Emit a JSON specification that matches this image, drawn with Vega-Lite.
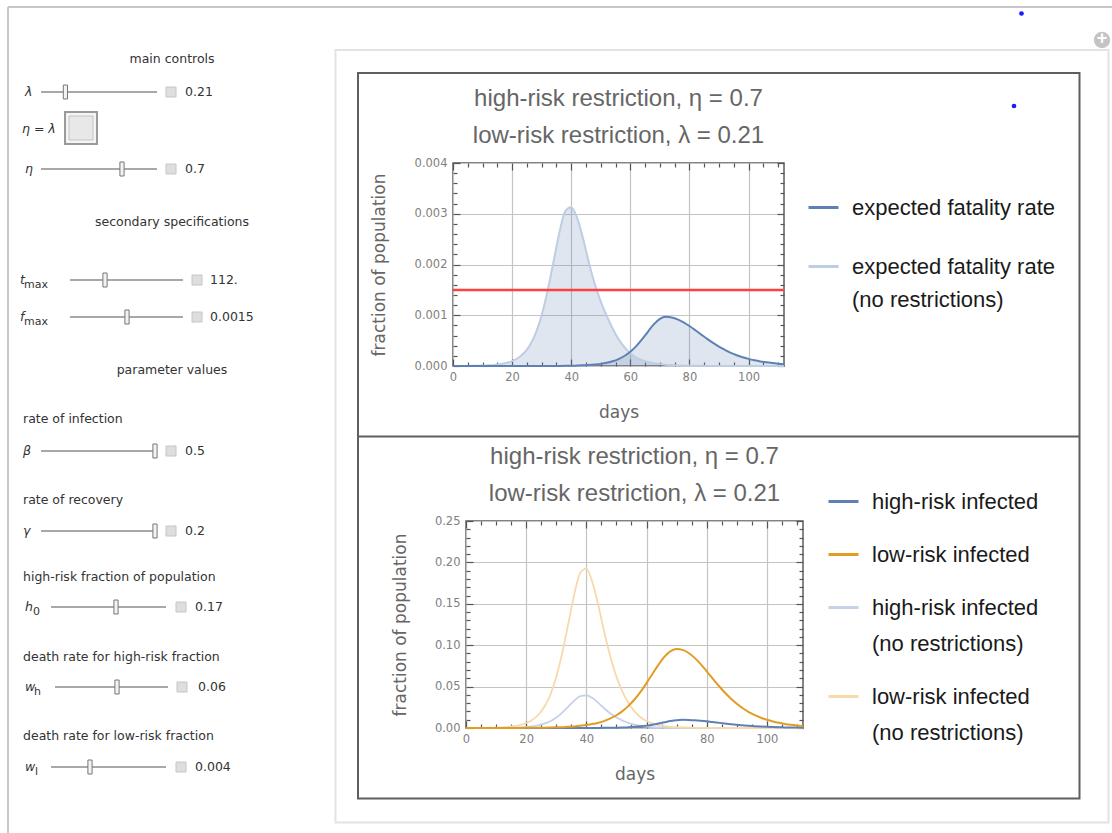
{
"$schema":"https://vega.github.io/schema/vega-lite/v6.json",
"padding":0,
"background":"#ffffff",
"bounds":"flush",
"spacing":0,
"config":{
 "view":{"stroke":null},
 "font":"Liberation Sans",
 "axis":{"labelFont":"DejaVu Sans","labelFontSize":11.5,"labelColor":"#808080","titleFont":"DejaVu Sans","titleFontSize":17,"titleFontWeight":"normal","titleColor":"#666666","tickColor":"#555555","tickWidth":1.2,"gridColor":"#c4c4c4","gridWidth":1.2,"domain":false,"labelFlush":false,"labelOverlap":false},
 "title":{"font":"Liberation Sans","fontSize":24,"fontWeight":"normal","color":"#666666","lineHeight":37,"anchor":"middle"},
 "legend":{"labelFont":"Liberation Sans","labelFontSize":22,"labelColor":"#1a1a1a","symbolType":"stroke","symbolSize":900,"symbolStrokeWidth":3,"labelLimit":600,"labelOffset":12,"labelBaseline":"alphabetic"}
},
"datasets":{
 "sliders":[
  {"sym":"λ","sub":"","sx":25,"bx":0,"y":92,"x":41,"x2":157,"xt":65.4,"xb":171,"xv":185,"val":"0.21"},
  {"sym":"η","sub":"","sx":25,"bx":0,"y":169,"x":41,"x2":157,"xt":122,"xb":171,"xv":185,"val":"0.7"},
  {"sym":"t","sub":"max","sx":20,"bx":24,"y":280,"x":70,"x2":183,"xt":105,"xb":197,"xv":210,"val":"112."},
  {"sym":"f","sub":"max","sx":20,"bx":24,"y":317,"x":70,"x2":183,"xt":127,"xb":197,"xv":210,"val":"0.0015"},
  {"sym":"β","sub":"","sx":23,"bx":0,"y":451,"x":41,"x2":155,"xt":155,"xb":171,"xv":185,"val":"0.5"},
  {"sym":"γ","sub":"","sx":23,"bx":0,"y":531,"x":41,"x2":155,"xt":155,"xb":171,"xv":185,"val":"0.2"},
  {"sym":"h","sub":"0","sx":25,"bx":33,"y":607,"x":51,"x2":166,"xt":116,"xb":181,"xv":195,"val":"0.17"},
  {"sym":"w","sub":"h","sx":25,"bx":34,"y":687,"x":55,"x2":168,"xt":117,"xb":182,"xv":198,"val":"0.06"},
  {"sym":"w","sub":"l","sx":25,"bx":35,"y":767,"x":51,"x2":166,"xt":90,"xb":181,"xv":195,"val":"0.004"}
 ],
 "curves":[
  {"day":0,"fr":0,"fr0":7e-7,"ih":0,"il":8e-6,"ih0":9e-6,"il0":4.3e-5},
  {"day":2,"fr":0,"fr0":1.1e-6,"ih":0,"il":1.1e-5,"ih0":1.4e-5,"il0":6.8e-5},
  {"day":4,"fr":0,"fr0":1.8e-6,"ih":0,"il":1.5e-5,"ih0":2.3e-5,"il0":1.1e-4},
  {"day":6,"fr":0,"fr0":3e-6,"ih":0,"il":2e-5,"ih0":3.8e-5,"il0":1.8e-4},
  {"day":8,"fr":0,"fr0":4.9e-6,"ih":0,"il":2.7e-5,"ih0":6.2e-5,"il0":3e-4},
  {"day":10,"fr":0,"fr0":8.1e-6,"ih":0,"il":3.6e-5,"ih0":1e-4,"il0":5e-4},
  {"day":12,"fr":0,"fr0":1.33e-5,"ih":0,"il":4.9e-5,"ih0":1.7e-4,"il0":8.2e-4},
  {"day":14,"fr":0,"fr0":2.2e-5,"ih":0,"il":6.7e-5,"ih0":2.8e-4,"il0":1.35e-3},
  {"day":16,"fr":0,"fr0":3.6e-5,"ih":0,"il":9.1e-5,"ih0":4.5e-4,"il0":2.2e-3},
  {"day":18,"fr":0,"fr0":5.9e-5,"ih":0,"il":1.24e-4,"ih0":7.4e-4,"il0":3.6e-3},
  {"day":20,"fr":1e-7,"fr0":9.7e-5,"ih":1e-6,"il":1.7e-4,"ih0":1.22e-3,"il0":6e-3},
  {"day":22,"fr":2e-7,"fr0":1.58e-4,"ih":2e-6,"il":2.3e-4,"ih0":2e-3,"il0":9.7e-3},
  {"day":24,"fr":3e-7,"fr0":2.56e-4,"ih":3e-6,"il":3.1e-4,"ih0":3.2e-3,"il0":1.57e-2},
  {"day":26,"fr":4e-7,"fr0":4.11e-4,"ih":4e-6,"il":4.2e-4,"ih0":5.2e-3,"il0":2.53e-2},
  {"day":28,"fr":5e-7,"fr0":6.49e-4,"ih":5e-6,"il":5.7e-4,"ih0":8.2e-3,"il0":3.99e-2},
  {"day":30,"fr":7e-7,"fr0":1.0e-3,"ih":7e-6,"il":7.7e-4,"ih0":1.26e-2,"il0":6.15e-2},
  {"day":32,"fr":1.1e-6,"fr0":1.48e-3,"ih":1.1e-5,"il":1.04e-3,"ih0":1.86e-2,"il0":9.1e-2},
  {"day":34,"fr":1.6e-6,"fr0":2.05e-3,"ih":1.6e-5,"il":1.42e-3,"ih0":2.58e-2,"il0":0.126},
  {"day":36,"fr":2.4e-6,"fr0":2.63e-3,"ih":2.4e-5,"il":1.93e-3,"ih0":3.31e-2,"il0":0.1617},
  {"day":38,"fr":3.6e-6,"fr0":3.05e-3,"ih":3.7e-5,"il":2.63e-3,"ih0":3.84e-2,"il0":0.1875},
  {"day":40,"fr":5.5e-6,"fr0":3.13e-3,"ih":5.6e-5,"il":3.52e-3,"ih0":3.94e-2,"il0":0.1925},
  {"day":42,"fr":8.2e-6,"fr0":2.92e-3,"ih":8.4e-5,"il":4.76e-3,"ih0":3.61e-2,"il0":0.176},
  {"day":44,"fr":1.24e-5,"fr0":2.51e-3,"ih":1.26e-4,"il":6.43e-3,"ih0":3.03e-2,"il0":0.148},
  {"day":46,"fr":1.86e-5,"fr0":2.03e-3,"ih":1.9e-4,"il":8.64e-3,"ih0":2.36e-2,"il0":0.115},
  {"day":48,"fr":2.79e-5,"fr0":1.61e-3,"ih":2.85e-4,"il":1.16e-2,"ih0":1.76e-2,"il0":8.6e-2},
  {"day":50,"fr":4.2e-5,"fr0":1.27e-3,"ih":4.3e-4,"il":1.54e-2,"ih0":1.27e-2,"il0":6.2e-2},
  {"day":52,"fr":6.22e-5,"fr0":9.9e-4,"ih":6.34e-4,"il":2.04e-2,"ih0":9e-3,"il0":4.4e-2},
  {"day":54,"fr":9.22e-5,"fr0":7.4e-4,"ih":9.4e-4,"il":2.67e-2,"ih0":6.2e-3,"il0":3e-2},
  {"day":56,"fr":1.36e-4,"fr0":5.3e-4,"ih":1.39e-3,"il":3.44e-2,"ih0":4.1e-3,"il0":2e-2},
  {"day":58,"fr":1.97e-4,"fr0":3.7e-4,"ih":2.01e-3,"il":4.36e-2,"ih0":2.7e-3,"il0":1.3e-2},
  {"day":60,"fr":2.8e-4,"fr0":2.5e-4,"ih":2.86e-3,"il":5.42e-2,"ih0":1.7e-3,"il0":8.5e-3},
  {"day":62,"fr":3.91e-4,"fr0":1.67e-4,"ih":3.99e-3,"il":6.55e-2,"ih0":1.1e-3,"il0":5.5e-3},
  {"day":64,"fr":5.28e-4,"fr0":1.15e-4,"ih":5.39e-3,"il":7.65e-2,"ih0":7e-4,"il0":3.5e-3},
  {"day":66,"fr":6.79e-4,"fr0":7.9e-5,"ih":6.93e-3,"il":8.61e-2,"ih0":4.5e-4,"il0":2.2e-3},
  {"day":68,"fr":8.24e-4,"fr0":5.4e-5,"ih":8.4e-3,"il":9.28e-2,"ih0":2.9e-4,"il0":1.4e-3},
  {"day":70,"fr":9.3e-4,"fr0":3.7e-5,"ih":9.49e-3,"il":9.55e-2,"ih0":1.8e-4,"il0":9e-4},
  {"day":72,"fr":9.7e-4,"fr0":2.6e-5,"ih":9.9e-3,"il":9.44e-2,"ih0":1.2e-4,"il0":6e-4},
  {"day":74,"fr":9.57e-4,"fr0":1.8e-5,"ih":9.76e-3,"il":9.06e-2,"ih0":8e-5,"il0":4e-4},
  {"day":76,"fr":9.2e-4,"fr0":1.2e-5,"ih":9.38e-3,"il":8.47e-2,"ih0":5e-5,"il0":2.5e-4},
  {"day":78,"fr":8.61e-4,"fr0":8e-6,"ih":8.78e-3,"il":7.71e-2,"ih0":3e-5,"il0":1.6e-4},
  {"day":80,"fr":7.88e-4,"fr0":5.7e-6,"ih":8.04e-3,"il":6.85e-2,"ih0":2e-5,"il0":1e-4},
  {"day":82,"fr":7.05e-4,"fr0":4e-6,"ih":7.19e-3,"il":5.97e-2,"ih0":1.3e-5,"il0":6.5e-5},
  {"day":84,"fr":6.19e-4,"fr0":2.7e-6,"ih":6.31e-3,"il":5.1e-2,"ih0":8e-6,"il0":4e-5},
  {"day":86,"fr":5.34e-4,"fr0":1.9e-6,"ih":5.45e-3,"il":4.29e-2,"ih0":5e-6,"il0":2.6e-5},
  {"day":88,"fr":4.55e-4,"fr0":1.3e-6,"ih":4.64e-3,"il":3.57e-2,"ih0":3e-6,"il0":1.7e-5},
  {"day":90,"fr":3.82e-4,"fr0":9e-7,"ih":3.9e-3,"il":2.93e-2,"ih0":2e-6,"il0":1.1e-5},
  {"day":92,"fr":3.19e-4,"fr0":6e-7,"ih":3.25e-3,"il":2.39e-2,"ih0":1e-6,"il0":7e-6},
  {"day":94,"fr":2.6e-4,"fr0":4e-7,"ih":2.65e-3,"il":1.93e-2,"ih0":1e-6,"il0":4e-6},
  {"day":96,"fr":2.13e-4,"fr0":3e-7,"ih":2.17e-3,"il":1.55e-2,"ih0":0,"il0":3e-6},
  {"day":98,"fr":1.73e-4,"fr0":2e-7,"ih":1.76e-3,"il":1.24e-2,"ih0":0,"il0":2e-6},
  {"day":100,"fr":1.4e-4,"fr0":1e-7,"ih":1.43e-3,"il":9.89e-3,"ih0":0,"il0":1e-6},
  {"day":102,"fr":1.13e-4,"fr0":1e-7,"ih":1.15e-3,"il":7.86e-3,"ih0":0,"il0":1e-6},
  {"day":104,"fr":9.03e-5,"fr0":0,"ih":9.2e-4,"il":6.23e-3,"ih0":0,"il0":0},
  {"day":106,"fr":7.23e-5,"fr0":0,"ih":7.4e-4,"il":4.93e-3,"ih0":0,"il0":0},
  {"day":108,"fr":5.78e-5,"fr0":0,"ih":5.9e-4,"il":3.89e-3,"ih0":0,"il0":0},
  {"day":110,"fr":4.61e-5,"fr0":0,"ih":4.7e-4,"il":3.06e-3,"ih0":0,"il0":0},
  {"day":112,"fr":3.68e-5,"fr0":0,"ih":3.8e-4,"il":2.42e-3,"ih0":0,"il0":0}
 ]
},
"hconcat":[
 {
  "width":330,"height":833,
  "encoding":{
   "x":{"field":"x","type":"quantitative","scale":{"domain":[0,330],"nice":false,"zero":false},"axis":null},
   "y":{"field":"y","type":"quantitative","scale":{"domain":[0,833],"nice":false,"zero":false,"reverse":true},"axis":null}
  },
  "layer":[
   {"data":{"values":[{"x":0,"x2":1112,"y":0,"y2":833}]},"mark":{"type":"rect","fill":"#ffffff"},"encoding":{"x2":{"field":"x2"},"y2":{"field":"y2"}}},
   {"data":{"values":[{"x":8,"x2":1112,"y":7,"y2":7},{"x":8,"x2":8,"y":7,"y2":833}]},"mark":{"type":"rule","stroke":"#c8c8c8","strokeWidth":2},"encoding":{"x2":{"field":"x2"},"y2":{"field":"y2"}}},
   {"data":{"values":[{"x":335.5,"x2":1108.5,"y":50,"y2":822.5}]},"mark":{"type":"rect","fill":"transparent","stroke":"#e3e3e3","strokeWidth":2},"encoding":{"x2":{"field":"x2"},"y2":{"field":"y2"}}},
   {"data":{"values":[{"x":358,"x2":1079.5,"y":73,"y2":798.5}]},"mark":{"type":"rect","fill":"transparent","stroke":"#5f5f5f","strokeWidth":2},"encoding":{"x2":{"field":"x2"},"y2":{"field":"y2"}}},
   {"data":{"values":[{"x":358,"x2":1079.5,"y":436.5,"y2":436.5}]},"mark":{"type":"rule","stroke":"#5f5f5f","strokeWidth":2},"encoding":{"x2":{"field":"x2"},"y2":{"field":"y2"}}},
   {"data":{"values":[{"x":1102,"y":40}]},"mark":{"type":"circle","size":270,"fill":"#c4c4c4","opacity":1}},
   {"data":{"values":[{"x":1102,"y":40}]},"mark":{"type":"text","text":"+","fontSize":18,"fontWeight":"bold","fill":"#ffffff","align":"center","baseline":"middle","dy":-1}},
   {"data":{"values":[{"x":1021.5,"y":13.5},{"x":1014,"y":106}]},"mark":{"type":"circle","size":22,"fill":"#1a1aff","opacity":1}},
   {"data":{"values":[{"t":"main controls","x":172,"y":59},{"t":"secondary specifications","x":172,"y":222},{"t":"parameter values","x":172,"y":370}]},
    "mark":{"type":"text","font":"DejaVu Sans","fontSize":12.5,"fill":"#333333","align":"center","baseline":"middle"},"encoding":{"text":{"field":"t"}}},
   {"data":{"values":[{"t":"rate of infection","x":23,"y":419},{"t":"rate of recovery","x":23,"y":500},{"t":"high-risk fraction of population","x":23,"y":577},{"t":"death rate for high-risk fraction","x":23,"y":657},{"t":"death rate for low-risk fraction","x":23,"y":736}]},
    "mark":{"type":"text","font":"DejaVu Sans","fontSize":12.5,"fill":"#333333","align":"left","baseline":"middle"},"encoding":{"text":{"field":"t"}}},
   {"data":{"values":[{"t":"η = λ","x":22,"y":129}]},
    "mark":{"type":"text","font":"DejaVu Sans","fontSize":12.5,"fontStyle":"italic","fill":"#333333","align":"left","baseline":"middle"},"encoding":{"text":{"field":"t"}}},
   {"data":{"values":[{"x":65,"x2":97,"y":112,"y2":144}]},"mark":{"type":"rect","fill":"#f4f4f4","stroke":"#9a9a9a","strokeWidth":2},"encoding":{"x2":{"field":"x2"},"y2":{"field":"y2"}}},
   {"data":{"values":[{"x":69,"x2":93,"y":116,"y2":140}]},"mark":{"type":"rect","fill":"#e8e8e8","stroke":"#c4c4c4","strokeWidth":1},"encoding":{"x2":{"field":"x2"},"y2":{"field":"y2"}}},
   {"data":{"name":"sliders"},"mark":{"type":"rule","stroke":"#a8a8a8","strokeWidth":2},"encoding":{"x2":{"field":"x2"}}},
   {"data":{"name":"sliders"},"mark":{"type":"point","shape":"M-0.3,-1H0.3V1H-0.3Z","size":196,"filled":true,"fill":"#f2f2f2","stroke":"#777777","strokeWidth":1,"opacity":1},
    "encoding":{"x":{"field":"xt","type":"quantitative","scale":{"domain":[0,330],"nice":false,"zero":false},"axis":null}}},
   {"data":{"name":"sliders"},"mark":{"type":"point","shape":"square","size":100,"filled":true,"fill":"#dedede","stroke":"#c6c6c6","strokeWidth":1,"opacity":1},
    "encoding":{"x":{"field":"xb","type":"quantitative","scale":{"domain":[0,330],"nice":false,"zero":false},"axis":null}}},
   {"data":{"name":"sliders"},"mark":{"type":"text","font":"DejaVu Sans","fontSize":12.5,"fill":"#333333","align":"left","baseline":"middle"},
    "encoding":{"x":{"field":"xv","type":"quantitative","scale":{"domain":[0,330],"nice":false,"zero":false},"axis":null},"text":{"field":"val"}}},
   {"data":{"name":"sliders"},"mark":{"type":"text","font":"DejaVu Sans","fontSize":12.5,"fontStyle":"italic","fill":"#333333","align":"left","baseline":"middle"},
    "encoding":{"x":{"field":"sx","type":"quantitative","scale":{"domain":[0,330],"nice":false,"zero":false},"axis":null},"text":{"field":"sym"}}},
   {"data":{"name":"sliders"},"mark":{"type":"text","font":"DejaVu Sans","fontSize":11,"fill":"#333333","align":"left","baseline":"middle","dy":5},
    "encoding":{"x":{"field":"bx","type":"quantitative","scale":{"domain":[0,330],"nice":false,"zero":false},"axis":null},"text":{"field":"sub"}}}
  ]
 },
 {
  "bounds":"flush",
  "spacing":0,
  "resolve":{"scale":{"color":"independent"},"legend":{"color":"independent"}},
  "vconcat":[
   {"width":1,"height":163,"data":{"values":[]},"mark":"point"},
   {"bounds":"flush","spacing":0,"hconcat":[
    {"width":123,"height":1,"data":{"values":[]},"mark":"point"},
    {
     "width":331,"height":203,
     "view":{"stroke":"#5c5c5c","strokeWidth":1.5},
     "title":{"text":["high-risk restriction, η = 0.7","low-risk restriction, λ = 0.21"],"offset":9},
     "data":{"name":"curves"},
     "layer":[
      {
       "transform":[{"fold":["fr0","fr"],"as":["series","value"]}],
       "mark":{"type":"area","fill":"#5E81B5","fillOpacity":0.2,"interpolate":"monotone"},
       "encoding":{
        "x":{"field":"day","type":"quantitative","scale":{"domain":[0,112],"nice":false,"zero":false},
         "axis":{"orient":"bottom","values":[0,5,10,15,20,25,30,35,40,45,50,55,60,65,70,75,80,85,90,95,100,105,110],"format":"d",
          "labelExpr":"datum.value % 20 == 0 ? datum.label : ''",
          "tickSize":{"condition":{"test":"datum.value % 20 == 0","value":-7},"value":-4},
          "labelPadding":12,"grid":true,
          "gridOpacity":{"condition":{"test":"datum.value % 20 == 0","value":1},"value":0},
          "title":"days","titlePadding":19}},
        "y":{"field":"value","type":"quantitative","stack":null,"scale":{"domain":[0,0.004],"nice":false,"zero":false},
         "axis":{"orient":"left","values":[0,0.0002,0.0004,0.0006,0.0008,0.001,0.0012,0.0014,0.0016,0.0018,0.002,0.0022,0.0024,0.0026,0.0028,0.003,0.0032,0.0034,0.0036,0.0038,0.004],"format":".3f",
          "labelExpr":"round(datum.value*10000) % 10 == 0 ? datum.label : ''",
          "tickSize":{"condition":{"test":"round(datum.value*10000) % 10 == 0","value":-7},"value":-4},
          "labelPadding":13,"grid":true,
          "gridOpacity":{"condition":{"test":"round(datum.value*10000) % 10 == 0","value":1},"value":0},
          "title":"fraction of population","titlePadding":26}},
        "detail":{"field":"series"}
       }
      },
      {
       "transform":[{"fold":["fr0","fr"],"as":["series","value"]}],
       "mark":{"type":"line","strokeWidth":2,"interpolate":"monotone"},
       "encoding":{
        "x":{"field":"day","type":"quantitative",
         "axis":{"orient":"top","values":[0,5,10,15,20,25,30,35,40,45,50,55,60,65,70,75,80,85,90,95,100,105,110],"labels":false,"grid":false,"title":null,
          "tickSize":{"condition":{"test":"datum.value % 20 == 0","value":-7},"value":-4}}},
        "y":{"field":"value","type":"quantitative",
         "axis":{"orient":"right","values":[0,0.0002,0.0004,0.0006,0.0008,0.001,0.0012,0.0014,0.0016,0.0018,0.002,0.0022,0.0024,0.0026,0.0028,0.003,0.0032,0.0034,0.0036,0.0038,0.004],"labels":false,"grid":false,"title":null,
          "tickSize":{"condition":{"test":"round(datum.value*10000) % 10 == 0","value":-7},"value":-4}}},
        "color":{"field":"series","type":"nominal","scale":{"domain":["fr","fr0"],"range":["#5E81B5","#BFCDE3"]},
         "legend":{"title":null,"orient":"none","legendX":477,"legendY":28,"rowPadding":31,
          "labelExpr":"datum.value == 'fr' ? 'expected fatality rate' : ['expected fatality rate', '(no restrictions)']",
          "encode":{"labels":{"update":{"dy":{"value":7},"lineHeight":{"value":33}}}}}}
       }
      },
      {
       "data":{"values":[{"fmax":0.0015}]},
       "mark":{"type":"rule","stroke":"#ff4040","strokeWidth":2.5},
       "encoding":{"y":{"field":"fmax","type":"quantitative","axis":null}}
      }
     ],
     "resolve":{"axis":{"x":"independent","y":"independent"}}
    }
   ]},
   {"width":1,"height":358,"data":{"values":[]},"mark":"point"},
   {"bounds":"flush","spacing":0,"hconcat":[
    {"width":136,"height":1,"data":{"values":[]},"mark":"point"},
    {
     "width":337,"height":207,
     "view":{"stroke":"#5c5c5c","strokeWidth":1.5},
     "title":{"text":["high-risk restriction, η = 0.7","low-risk restriction, λ = 0.21"],"offset":9},
     "data":{"name":"curves"},
     "layer":[
      {
       "transform":[{"fold":["ih0","il0"],"as":["series","value"]}],
       "mark":{"type":"line","strokeWidth":1.8,"interpolate":"monotone"},
       "encoding":{
        "x":{"field":"day","type":"quantitative","scale":{"domain":[0,112],"nice":false,"zero":false},
         "axis":{"orient":"bottom","values":[0,5,10,15,20,25,30,35,40,45,50,55,60,65,70,75,80,85,90,95,100,105,110],"format":"d",
          "labelExpr":"datum.value % 20 == 0 ? datum.label : ''",
          "tickSize":{"condition":{"test":"datum.value % 20 == 0","value":-7},"value":-4},
          "labelPadding":12,"grid":true,
          "gridOpacity":{"condition":{"test":"datum.value % 20 == 0","value":1},"value":0},
          "title":"days","titlePadding":19}},
        "y":{"field":"value","type":"quantitative","scale":{"domain":[0,0.25],"nice":false,"zero":false},
         "axis":{"orient":"left","values":[0,0.01,0.02,0.03,0.04,0.05,0.06,0.07,0.08,0.09,0.1,0.11,0.12,0.13,0.14,0.15,0.16,0.17,0.18,0.19,0.2,0.21,0.22,0.23,0.24,0.25],"format":".2f",
          "labelExpr":"round(datum.value*100) % 5 == 0 ? datum.label : ''",
          "tickSize":{"condition":{"test":"round(datum.value*100) % 5 == 0","value":-7},"value":-4},
          "labelPadding":13,"grid":true,
          "gridOpacity":{"condition":{"test":"round(datum.value*100) % 5 == 0","value":1},"value":0},
          "title":"fraction of population","titlePadding":25}},
        "color":{"field":"series","type":"nominal","scale":{"domain":["ih","il","ih0","il0"],"range":["#5E81B5","#E19C24","#C5D2E7","#F6DAAB"]},
         "legend":{"title":null,"orient":"none","legendX":497,"legendY":-36,"rowPadding":25,
          "labelExpr":"datum.value == 'ih' ? 'high-risk infected' : datum.value == 'il' ? 'low-risk infected' : datum.value == 'ih0' ? ['high-risk infected', '(no restrictions)'] : ['low-risk infected', '(no restrictions)']",
          "encode":{"labels":{"update":{"dy":{"value":7},"lineHeight":{"value":36}}}}}}
       }
      },
      {
       "transform":[{"fold":["ih","il"],"as":["series","value"]}],
       "mark":{"type":"line","strokeWidth":2,"interpolate":"monotone"},
       "encoding":{
        "x":{"field":"day","type":"quantitative",
         "axis":{"orient":"top","values":[0,5,10,15,20,25,30,35,40,45,50,55,60,65,70,75,80,85,90,95,100,105,110],"labels":false,"grid":false,"title":null,
          "tickSize":{"condition":{"test":"datum.value % 20 == 0","value":-7},"value":-4}}},
        "y":{"field":"value","type":"quantitative",
         "axis":{"orient":"right","values":[0,0.01,0.02,0.03,0.04,0.05,0.06,0.07,0.08,0.09,0.1,0.11,0.12,0.13,0.14,0.15,0.16,0.17,0.18,0.19,0.2,0.21,0.22,0.23,0.24,0.25],"labels":false,"grid":false,"title":null,
          "tickSize":{"condition":{"test":"round(datum.value*100) % 5 == 0","value":-7},"value":-4}}},
        "color":{"field":"series","type":"nominal","scale":{"domain":["ih","il","ih0","il0"],"range":["#5E81B5","#E19C24","#C5D2E7","#F6DAAB"]},
         "legend":{"title":null,"orient":"none","legendX":497,"legendY":-36,"rowPadding":25,
          "labelExpr":"datum.value == 'ih' ? 'high-risk infected' : datum.value == 'il' ? 'low-risk infected' : datum.value == 'ih0' ? ['high-risk infected', '(no restrictions)'] : ['low-risk infected', '(no restrictions)']",
          "encode":{"labels":{"update":{"dy":{"value":7},"lineHeight":{"value":36}}}}}}
       }
      }
     ],
     "resolve":{"axis":{"x":"independent","y":"independent"}}
    }
   ]}
  ]
 }
]
}
